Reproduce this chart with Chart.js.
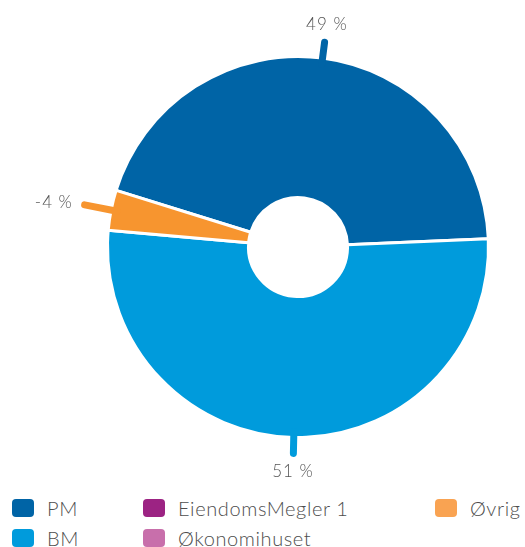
<!DOCTYPE html>
<html>
<head>
<meta charset="utf-8">
<script src="https://cdn.jsdelivr.net/npm/chart.js@4/dist/chart.umd.min.js"></script>
<style>
  body { margin: 0; width: 525px; height: 547px; overflow: hidden; background: #fff; font-family: Lato, "Open Sans", sans-serif; }
  #legend { display: grid; grid-template-rows: 30px 30px; grid-auto-flow: column; grid-template-columns: 131px 292px 90px; padding-left: 12px; }
  .item { display: flex; align-items: center; font-size: 20px; font-weight: 300; letter-spacing: 0.6px; color: #4d4d4d; white-space: nowrap; }
  .sw { width: 22px; height: 18px; border-radius: 4px; margin-right: 13px; flex: none; }
</style>
</head>
<body>
<canvas id="pie" width="525" height="493"></canvas>
<div id="legend"></div>
<script>
// categories and colours
const labels = ['PM', 'BM', 'EiendomsMegler 1', 'Økonomihuset', 'Øvrig'];
const colors = ['#0064a6', '#009bdc', '#9c2383', '#c86fab', '#f7952f'];
const legendColors = ['#0064a6', '#009bdc', '#9c2383', '#c86fab', '#f9a352'];
// share of the ring each slice takes
const sliceShare = [44.5, 52.1, 0, 0, -3.4];
// percentages printed next to the slices
const shownPct = [49, 51, 0, 0, -4];

// draws the little connector + percentage text for every slice
const sliceLabels = {
    id: 'sliceLabels',
    afterDatasetsDraw(chart) {
        var ctx = chart.ctx;
        chart.getDatasetMeta(0).data.forEach(function (arc, i) {
            if (!sliceShare[i]) return;
            var p = arc.getProps(['x', 'y', 'startAngle', 'endAngle', 'outerRadius']);
            var a = (p.startAngle + p.endAngle) / 2;
            var cos = Math.cos(a), sin = Math.sin(a);
            var side = Math.abs(cos) > 0.7;
            var lineEnd = p.outerRadius + (side ? 27 : 16);
            ctx.save();
            ctx.strokeStyle = colors[i];
            ctx.lineWidth = 7;
            ctx.lineCap = 'round';
            ctx.beginPath();
            ctx.moveTo(p.x + cos * (p.outerRadius - 6), p.y + sin * (p.outerRadius - 6));
            ctx.lineTo(p.x + cos * lineEnd, p.y + sin * lineEnd);
            ctx.stroke();
            ctx.font = '300 17px Lato, "Open Sans", sans-serif';
            ctx.letterSpacing = '1px';
            ctx.fillStyle = '#555';
            ctx.textAlign = cos < -0.7 ? 'right' : (cos > 0.7 ? 'left' : 'center');
            ctx.textBaseline = 'middle';
            var textR = side ? lineEnd + 12 : p.outerRadius + 34;
            ctx.fillText(shownPct[i] + ' %', p.x + cos * textR, p.y + sin * textR);
            ctx.restore();
        });
    }
};

var pieChart = new Chart(document.getElementById('pie'), {
    type: 'doughnut',
    data: {
        labels: labels,
        datasets: [{
            data: sliceShare,
            backgroundColor: colors,
            borderColor: '#fff',
            borderWidth: 3,
            hoverOffset: 0
        }]
    },
    options: {
        responsive: false,
        animation: false,
        cutout: '26%',
        rotation: -72.7,
        layout: { padding: { left: 106, right: 35, top: 55, bottom: 54 } },
        plugins: {
            legend: { display: false },
            tooltip: { enabled: false }
        }
    },
    plugins: [sliceLabels]
});

// html legend, laid out in columns like the original
var legend = document.getElementById('legend');
labels.forEach(function (name, i) {
    var item = document.createElement('div');
    item.className = 'item';
    item.innerHTML = '<span class="sw" style="background:' + legendColors[i] + '"></span>' + name;
    legend.appendChild(item);
});
</script>
</body>
</html>
